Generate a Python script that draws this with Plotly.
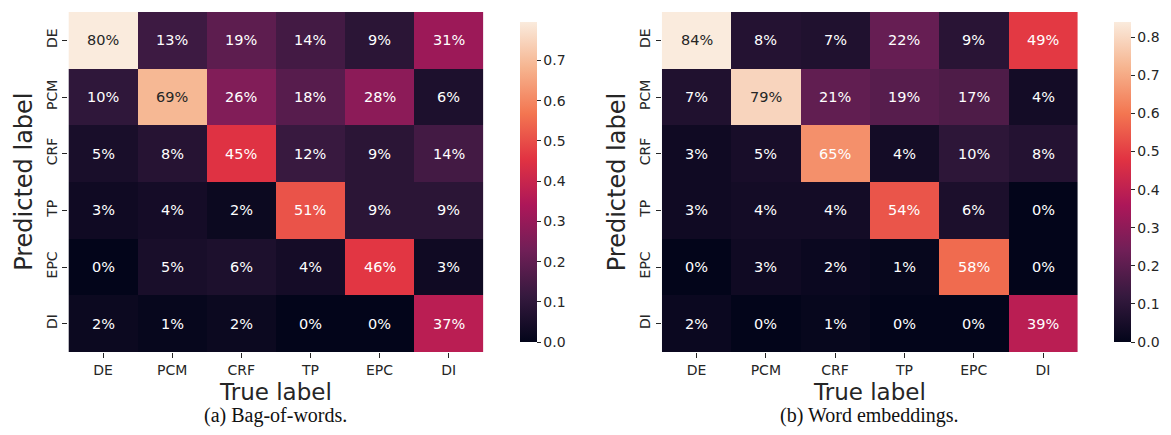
import plotly.graph_objects as go

labels = ["DE", "PCM", "CRF", "TP", "EPC", "DI"]

# rows = predicted label, columns = true label
bow_values = [
    [0.796, 0.13, 0.19, 0.14, 0.09, 0.31],
    [0.10, 0.69, 0.26, 0.18, 0.28, 0.06],
    [0.05, 0.08, 0.45, 0.12, 0.09, 0.14],
    [0.03, 0.04, 0.02, 0.51, 0.09, 0.09],
    [0.00, 0.05, 0.06, 0.04, 0.46, 0.03],
    [0.02, 0.01, 0.02, 0.00, 0.00, 0.37],
]
emb_values = [
    [0.84, 0.08, 0.07, 0.22, 0.09, 0.49],
    [0.07, 0.79, 0.21, 0.19, 0.17, 0.04],
    [0.03, 0.05, 0.65, 0.04, 0.10, 0.08],
    [0.03, 0.04, 0.04, 0.54, 0.06, 0.00],
    [0.00, 0.03, 0.02, 0.01, 0.58, 0.00],
    [0.02, 0.00, 0.01, 0.00, 0.00, 0.39],
]
captions = ["(a) Bag-of-words.", "(b) Word embeddings."]

rocket_hex = ["#03051A", "#35193e", "#701f57", "#ad1759", "#e13342",
              "#f37651", "#f6b48f", "#faebdd"]
rocket = [[i / (len(rocket_hex) - 1), c] for i, c in enumerate(rocket_hex)]


def hex2rgb(h):
    h = h.lstrip("#")
    return [int(h[i:i + 2], 16) / 255 for i in (0, 2, 4)]


def cmap(t):
    t = min(max(t, 0), 1)
    n = len(rocket_hex) - 1
    i = min(int(t * n), n - 1)
    f = t * n - i
    a, b = hex2rgb(rocket_hex[i]), hex2rgb(rocket_hex[i + 1])
    return [a[k] + (b[k] - a[k]) * f for k in range(3)]


def lum(rgb):
    lin = [c / 12.92 if c <= 0.03928 else ((c + 0.055) / 1.055) ** 2.4 for c in rgb]
    return 0.2126 * lin[0] + 0.7152 * lin[1] + 0.0722 * lin[2]


W, H = 1171, 435
doms = [(69 / W, 487 / W), (667 / W, 1086 / W)]
ybot, ytop = 1 - 352 / H, 1 - 12 / H
cbx = [514 / W, 1113 / W]

fig = go.Figure()
annotations = []
font = "DejaVu Sans"

for p, vals in enumerate([bow_values, emb_values]):
    vmax = max(max(r) for r in vals)
    ax = "" if p == 0 else "2"
    ca = "coloraxis" if p == 0 else "coloraxis2"
    fig.add_trace(go.Heatmap(z=vals, x=labels, y=labels, coloraxis=ca,
                             xaxis="x" + ax, yaxis="y" + ax,
                             hoverinfo="skip"))
    for r, row in enumerate(vals):
        for c, v in enumerate(row):
            col = "#262626" if lum(cmap(v / vmax)) > 0.408 else "white"
            annotations.append(dict(x=labels[c], y=labels[r], xref="x" + ax,
                                    yref="y" + ax, text=f"{round(v * 100):.0f}%",
                                    showarrow=False,
                                    font=dict(family=font, size=14.5, color=col)))
    fig.layout[ca] = dict(
        cmin=0, cmax=vmax, colorscale=rocket,
        colorbar=dict(x=cbx[p], xanchor="left", y=ybot, yanchor="bottom",
                      len=340, lenmode="pixels", thickness=17,
                      thicknessmode="pixels", outlinewidth=0,
                      tick0=0, dtick=0.1, tickformat=".1f",
                      ticks="outside", ticklen=4, tickwidth=1,
                      tickcolor="#262626",
                      tickfont=dict(family=font, size=14, color="#262626")))
    fig.layout["xaxis" + ax] = dict(
        domain=doms[p], anchor="y" + ax, showgrid=False, zeroline=False,
        ticks="outside", ticklen=5, tickcolor="#262626",
        tickfont=dict(family=font, size=14, color="#262626"),
        categoryorder="array", categoryarray=labels)
    fig.layout["yaxis" + ax] = dict(
        domain=[ybot, ytop], anchor="x" + ax, showgrid=False, zeroline=False,
        ticks="outside", ticklen=5, tickcolor="#262626", tickangle=-90,
        tickfont=dict(family=font, size=14, color="#262626"),
        autorange="reversed")
    xc = (doms[p][0] + doms[p][1]) / 2
    annotations.append(dict(x=xc, y=1 - 392 / H, xref="paper", yref="paper",
                            text="True label", showarrow=False,
                            xanchor="center", yanchor="middle",
                            font=dict(family=font, size=23, color="#262626")))
    annotations.append(dict(x=doms[p][0] - 45 / W, y=(ybot + ytop) / 2,
                            xref="paper", yref="paper", text="Predicted label",
                            showarrow=False, textangle=-90,
                            xanchor="center", yanchor="middle",
                            font=dict(family=font, size=24, color="#262626")))
    annotations.append(dict(x=xc, y=1 - 415 / H, xref="paper", yref="paper",
                            text=captions[p], showarrow=False,
                            xanchor="center", yanchor="middle",
                            font=dict(family="Liberation Serif", size=20,
                                      color="#111111")))

fig.update_layout(width=W, height=H, margin=dict(l=0, r=0, t=0, b=0),
                  paper_bgcolor="white", plot_bgcolor="white",
                  annotations=annotations, showlegend=False)
fig.write_html("out.html")
